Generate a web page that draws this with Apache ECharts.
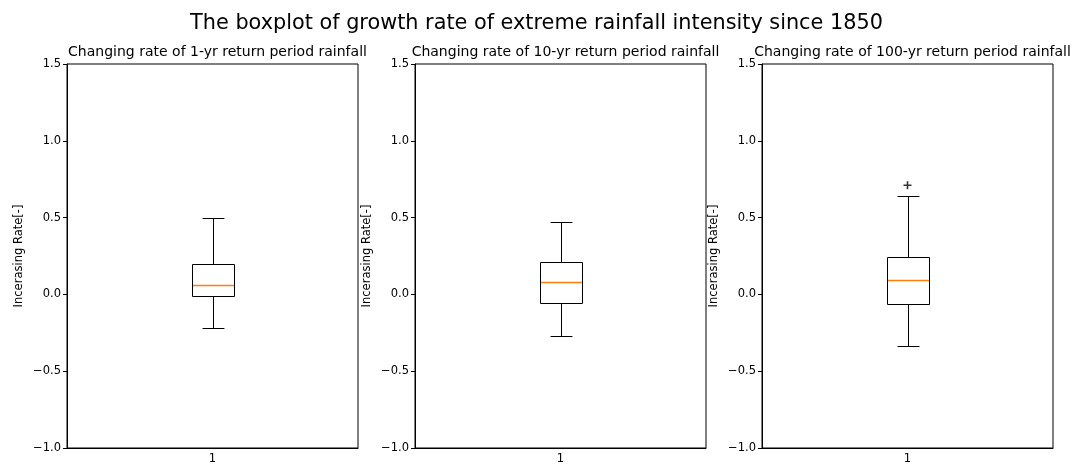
<!DOCTYPE html>
<html>
<head>
<meta charset="utf-8">
<script src="https://cdn.jsdelivr.net/npm/echarts@6/dist/echarts.min.js"></script>
<style>
  html, body { margin: 0; padding: 0; background: #fff; }
  #chart { width: 1073px; height: 466px; }
</style>
</head>
<body>
<div id="chart"></div>
<script>
// box statistics, one entry per panel
const categories = ['1'];
const panelTitles = [
  'Changing rate of 1-yr return period rainfall',
  'Changing rate of 10-yr return period rainfall',
  'Changing rate of 100-yr return period rainfall',
];
const whiskerLow = [-0.217, -0.271, -0.338];
const q1 = [-0.013, -0.057, -0.063];
const median = [0.058, 0.082, 0.091];
const q3 = [0.200, 0.208, 0.243];
const whiskerHigh = [0.498, 0.472, 0.642];
const outliers = [[], [], [0.711]];
const yMin = -1.0;
const yMax = 1.5;
const yStep = 0.5;

const FONT = 'DejaVu Sans';
const gridLefts = [67, 415, 762];

const fmtTick = (v) => v.toFixed(1).replace('-', '\u2212');

// draw one matplotlib-like box from the data item
const renderBox = (params, api) => {
  const x = api.value(0);
  const pLow = api.coord([x, api.value(1)]);
  const pQ1 = api.coord([x, api.value(2)]);
  const pMed = api.coord([x, api.value(3)]);
  const pQ3 = api.coord([x, api.value(4)]);
  const pHigh = api.coord([x, api.value(5)]);
  const bw = api.size([1, 0])[0] * 0.15;
  const cw = bw * 0.5;
  const cx = Math.round(pMed[0]) + 0.5;
  const r = (v) => Math.round(v) + 0.5;
  const line = (x1, y1, x2, y2, color, w) => ({
    type: 'line',
    shape: { x1, y1: r(y1), x2, y2: r(y2) },
    style: { stroke: color || '#000', lineWidth: w || 1 },
  });
  const x0 = Math.round(cx - bw / 2) + 0.5;
  const x1 = Math.round(cx + bw / 2) - 0.5;
  return {
    type: 'group',
    children: [
      {
        type: 'rect',
        shape: { x: x0, y: r(pQ3[1]), width: x1 - x0, height: r(pQ1[1]) - r(pQ3[1]) },
        style: { fill: 'none', stroke: '#000', lineWidth: 1 },
      },
      line(cx, pQ3[1], cx, pHigh[1]),
      line(cx, pQ1[1], cx, pLow[1]),
      line(cx - cw / 2, pHigh[1], cx + cw / 2, pHigh[1]),
      line(cx - cw / 2, pLow[1], cx + cw / 2, pLow[1]),
      line(x0 + 0.5, pMed[1], x1 - 0.5, pMed[1], '#ff7f0e', 1.4),
    ],
  };
};

const chart = echarts.init(document.getElementById('chart'));

const grids = gridLefts.map((left) => ({
  left: left,
  top: 64,
  width: 291,
  height: 384,
  show: true,
  borderColor: '#000',
  borderWidth: 1,
}));

const xAxes = gridLefts.map((_, i) => ({
  type: 'category',
  gridIndex: i,
  data: categories,
  boundaryGap: true,
  axisLine: { onZero: false, lineStyle: { color: '#000', width: 1 } },
  axisTick: { alignWithLabel: true, length: 4, lineStyle: { color: '#000' } },
  axisLabel: { color: '#000', fontFamily: FONT, fontSize: 11.5, margin: 5 },
  splitLine: { show: false },
}));

const yAxes = gridLefts.map((_, i) => ({
  type: 'value',
  gridIndex: i,
  min: yMin,
  max: yMax,
  interval: yStep,
  name: 'Incerasing Rate[-]',
  nameLocation: 'middle',
  nameRotate: 90,
  nameGap: 42,
  nameTextStyle: { color: '#000', fontFamily: FONT, fontSize: 11.5 },
  axisLine: { show: true, onZero: false, lineStyle: { color: '#000', width: 1 } },
  axisTick: { show: true, length: 4, lineStyle: { color: '#000' } },
  axisLabel: { color: '#000', fontFamily: FONT, fontSize: 11.5, margin: 6, formatter: fmtTick },
  splitLine: { show: false },
}));

const titles = [
  {
    text: 'The boxplot of growth rate of extreme rainfall intensity since 1850',
    left: 'center',
    top: 8,
    textStyle: { color: '#000', fontFamily: FONT, fontSize: 20.8, fontWeight: 'normal' },
  },
].concat(panelTitles.map((t, i) => ({
  text: t,
  left: gridLefts[i] + 145.5,
  textAlign: 'center',
  top: 40,
  textStyle: { color: '#000', fontFamily: FONT, fontSize: 14, fontWeight: 'normal' },
})));

const boxSeries = gridLefts.map((_, i) => ({
  type: 'custom',
  xAxisIndex: i,
  yAxisIndex: i,
  renderItem: renderBox,
  encode: { x: 0, y: [1, 2, 3, 4, 5] },
  data: [[0, whiskerLow[i], q1[i], median[i], q3[i], whiskerHigh[i]]],
  silent: true,
}));

const flierSeries = gridLefts.map((_, i) => ({
  type: 'scatter',
  xAxisIndex: i,
  yAxisIndex: i,
  symbol: 'path://M4,0h2v10h-2z M0,4h10v2h-10z',
  symbolSize: 8,
  itemStyle: { color: '#000' },
  data: outliers[i].map((v) => [0, v]),
  silent: true,
}));

chart.setOption({
  animation: false,
  backgroundColor: '#fff',
  title: titles,
  grid: grids,
  xAxis: xAxes,
  yAxis: yAxes,
  series: boxSeries.concat(flierSeries),
});
</script>
</body>
</html>
